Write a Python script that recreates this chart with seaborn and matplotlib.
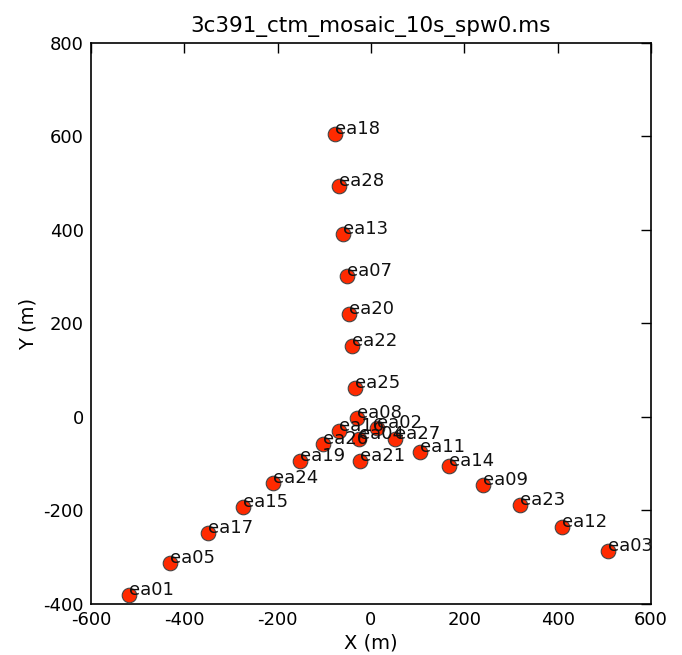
import matplotlib
matplotlib.use("Agg")
import matplotlib.pyplot as plt
import seaborn as sns
import pandas as pd

names = ["ea18", "ea28", "ea13", "ea07", "ea20", "ea22", "ea25", "ea08", "ea16", "ea02",
         "ea04", "ea27", "ea26", "ea19", "ea21", "ea11", "ea14", "ea09", "ea23", "ea12",
         "ea03", "ea24", "ea15", "ea17", "ea05", "ea01"]
x_m = [-77, -69, -60, -51, -47, -41, -34, -30, -69, 13,
       -26, 51, -103, -152, -24, 105, 167, 240, 319, 409,
       508, -210, -274, -349, -431, -519]
y_m = [605, 494, 391, 302, 220, 152, 62, -2, -30, -24,
       -47, -47, -58, -94, -94, -75, -105, -145, -188, -235,
       -287, -141, -193, -248, -312, -381]
title = "3c391_ctm_mosaic_10s_spw0.ms"

sns.set_style("white")
plt.rcParams["font.family"] = ["DejaVu Sans"]
plt.rcParams["axes.unicode_minus"] = False
plt.rcParams["text.color"] = "black"
plt.rcParams["axes.labelcolor"] = "black"
plt.rcParams["xtick.color"] = "black"
plt.rcParams["ytick.color"] = "black"

df = pd.DataFrame({"name": names, "x": x_m, "y": y_m})

fig = plt.figure(figsize=(6.82, 6.55), dpi=100)
ax = fig.add_axes([0.1334, 0.0779, 0.8211, 0.8565])
sns.scatterplot(data=df, x="x", y="y", ax=ax, color="#ff2a00", edgecolor="#444444",
                linewidth=0.8, s=110, zorder=3, legend=False)
for n, xx, yy in zip(df["name"], df["x"], df["y"]):
    ax.text(xx, yy, n, fontsize=13, color="#111111", zorder=4)

ax.set_xlim(-600, 600)
ax.set_ylim(-400, 800)
ax.set_xticks(range(-600, 601, 200))
ax.set_yticks(range(-400, 801, 200))
ax.set_xlabel("X (m)", fontsize=14, labelpad=3)
ax.set_ylabel("Y (m)", fontsize=14)
ax.set_title(title, fontsize=15.5, pad=8)
ax.tick_params(direction="in", top=True, right=True, length=7, width=1, labelsize=13,
               color="black", pad=5)
for sp in ax.spines.values():
    sp.set_color("black")
    sp.set_linewidth(1.2)

fig.savefig("out.png", dpi=100)
